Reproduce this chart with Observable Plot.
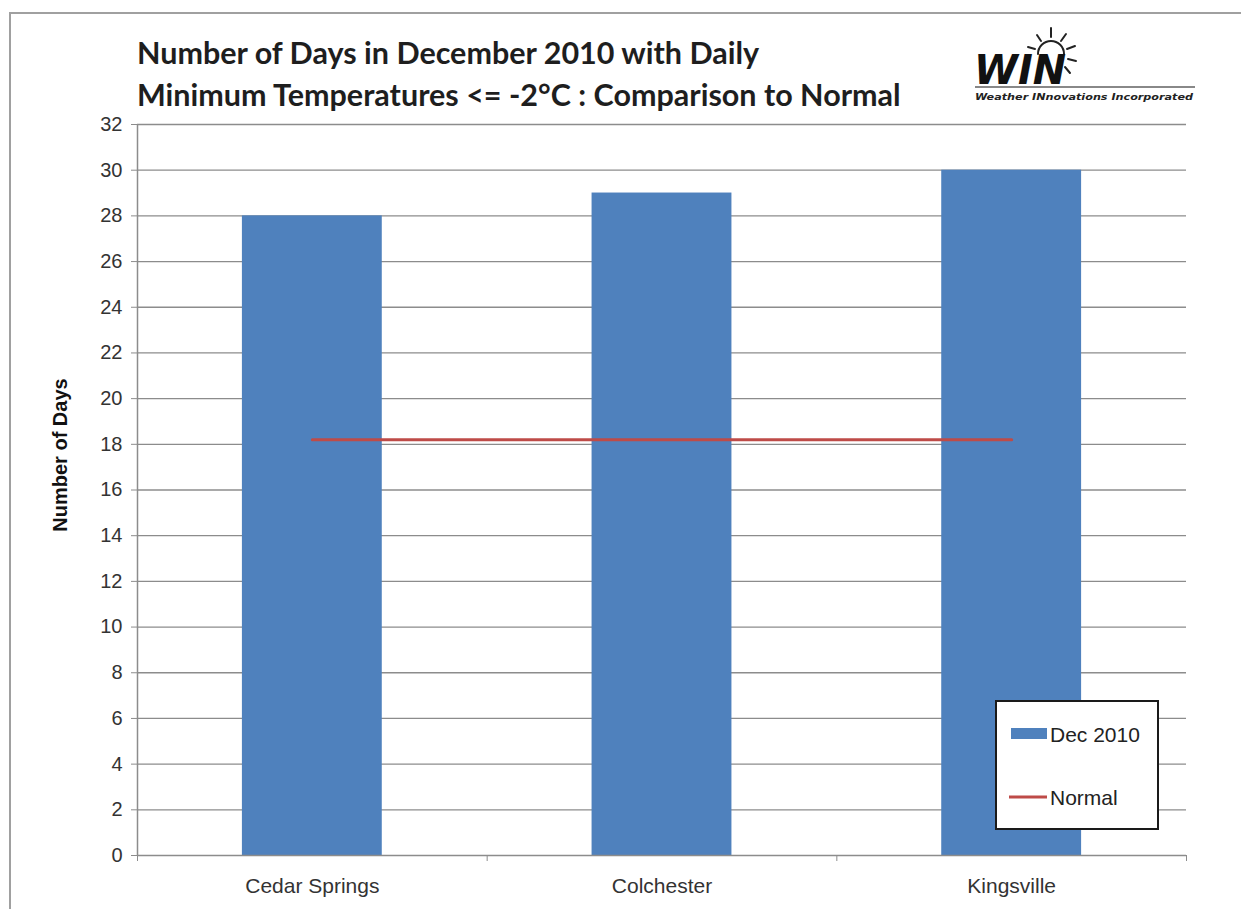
<!DOCTYPE html>
<html>
<head>
<meta charset="utf-8">
<script src="https://cdn.jsdelivr.net/npm/d3@7"></script>
<script src="https://cdn.jsdelivr.net/npm/@observablehq/plot@0.6"></script>
<style>
  html, body { margin: 0; padding: 0; background: #fff; }
  #wrap { position: relative; width: 1241px; height: 909px; overflow: hidden; }
  #chart { position: absolute; left: 0; top: 0; }
  .frameL { position: absolute; left: 9px; top: 12px; width: 2px; height: 897px; background: #a0a0a0; }
  .frameT { position: absolute; left: 9px; top: 12px; width: 1232px; height: 2px; background: #a0a0a0; }
  .title { position: absolute; left: 137px; top: 31px; font-family: Lato, "Open Sans", sans-serif; font-weight: 700; font-size: 30.5px; line-height: 42px; color: #1e1e1e; white-space: nowrap; }
  .ylab { position: absolute; left: 60px; top: 455px; transform: translate(-50%, -50%) rotate(-90deg); font-family: "Liberation Sans", Arial, sans-serif; font-weight: 700; font-size: 20px; color: #111; white-space: nowrap; }
  .legend { position: absolute; left: 995px; top: 700px; width: 160px; height: 126px; border: 2px solid #1a1a1a; background: #fff; }
  .logo { position: absolute; left: 970px; top: 22px; }
</style>
</head>
<body>
<div id="wrap">
  <div id="chart"></div>
  <div class="frameL"></div>
  <div class="frameT"></div>
  <div class="title">Number of Days in December 2010 with Daily<br>Minimum Temperatures &lt;= -2°C : Comparison to Normal</div>
  <div class="ylab">Number of Days</div>
  <div class="logo">
    <svg width="230" height="80" viewBox="0 0 230 80">
      <g stroke="#222" stroke-width="2" fill="none" stroke-linecap="round">
        <path d="M68 32 A 13 13 0 0 1 94 32"/>
        <line x1="81" y1="15" x2="81" y2="6"/>
        <line x1="91" y1="19" x2="96" y2="12"/>
        <line x1="71" y1="19" x2="67" y2="13"/>
        <line x1="97" y1="27" x2="105" y2="24"/>
        <line x1="98" y1="37" x2="106" y2="39"/>
        <line x1="95" y1="45" x2="100" y2="51"/>
        <line x1="65" y1="27" x2="58" y2="25"/>
      </g>
      <text x="4" y="62" font-family="'DejaVu Sans', sans-serif" font-weight="900" font-style="italic" font-size="40" fill="#111" textLength="92" lengthAdjust="spacingAndGlyphs">WIN</text>
      <line x1="5" y1="65" x2="225" y2="65" stroke="#888" stroke-width="2"/>
      <text x="5" y="78" font-family="'DejaVu Sans', sans-serif" font-weight="700" font-style="italic" font-size="9.5" fill="#222" textLength="218" lengthAdjust="spacingAndGlyphs">Weather INnovations Incorporated</text>
    </svg>
  </div>
  <div class="legend">
    <svg width="160" height="126">
      <rect x="14" y="26" width="36" height="11" fill="#4f81bd"/>
      <text x="53" y="40" font-family="'Liberation Sans', Arial, sans-serif" font-size="21" fill="#222">Dec 2010</text>
      <line x1="12" y1="95" x2="50" y2="95" stroke="#be4b48" stroke-width="3"/>
      <text x="53" y="103" font-family="'Liberation Sans', Arial, sans-serif" font-size="21" fill="#222">Normal</text>
    </svg>
  </div>
</div>
<script>
const sites = ["Cedar Springs", "Colchester", "Kingsville"];
const dec2010 = [28, 29, 30];
const normal = [18.2, 18.2, 18.2];
const yTicks = d3.range(0, 33, 2);
const xBoundaries = [0, 1, 2, 3];

const data = sites.map((s, i) => ({site: s, i, dec: dec2010[i], normal: normal[i]}));

const chart = Plot.plot({
  width: 1241,
  height: 909,
  marginLeft: 137,
  marginRight: 55,
  marginTop: 124,
  marginBottom: 54,
  style: {fontFamily: "'Liberation Sans', Arial, sans-serif", fontSize: "20px", color: "#333", background: "transparent"},
  x: {domain: [0, 3], axis: null},
  y: {domain: [0, 32], axis: null},
  marks: [
    Plot.gridY(yTicks.filter(d => d > 0), {stroke: "#8c8c8c", strokeOpacity: 1, strokeWidth: 1.3}),
    Plot.rectY(data, {x1: d => d.i + 0.3, x2: d => d.i + 0.7, y: "dec", fill: "#4f81bd", insetLeft: 0, insetRight: 0}),
    Plot.lineY(data, {x: d => d.i + 0.5, y: "normal", stroke: "#be4b48", strokeWidth: 3}),
    Plot.ruleX([0], {stroke: "#8c8c8c", strokeWidth: 1.5}),
    Plot.ruleY([0], {stroke: "#8c8c8c", strokeWidth: 1.5}),
    Plot.axisY({ticks: yTicks, tickSize: 6, tickPadding: 9, stroke: "#8c8c8c", fill: "#333", fontSize: 20, label: null}),
    Plot.axisX({ticks: xBoundaries, tickSize: 6, tickFormat: () => "", stroke: "#8c8c8c", label: null}),
    Plot.text(data, {x: d => d.i + 0.5, y: 0, text: "site", dy: 31, fill: "#333", fontSize: 21})
  ]
});
document.getElementById("chart").appendChild(chart);
</script>
</body>
</html>
